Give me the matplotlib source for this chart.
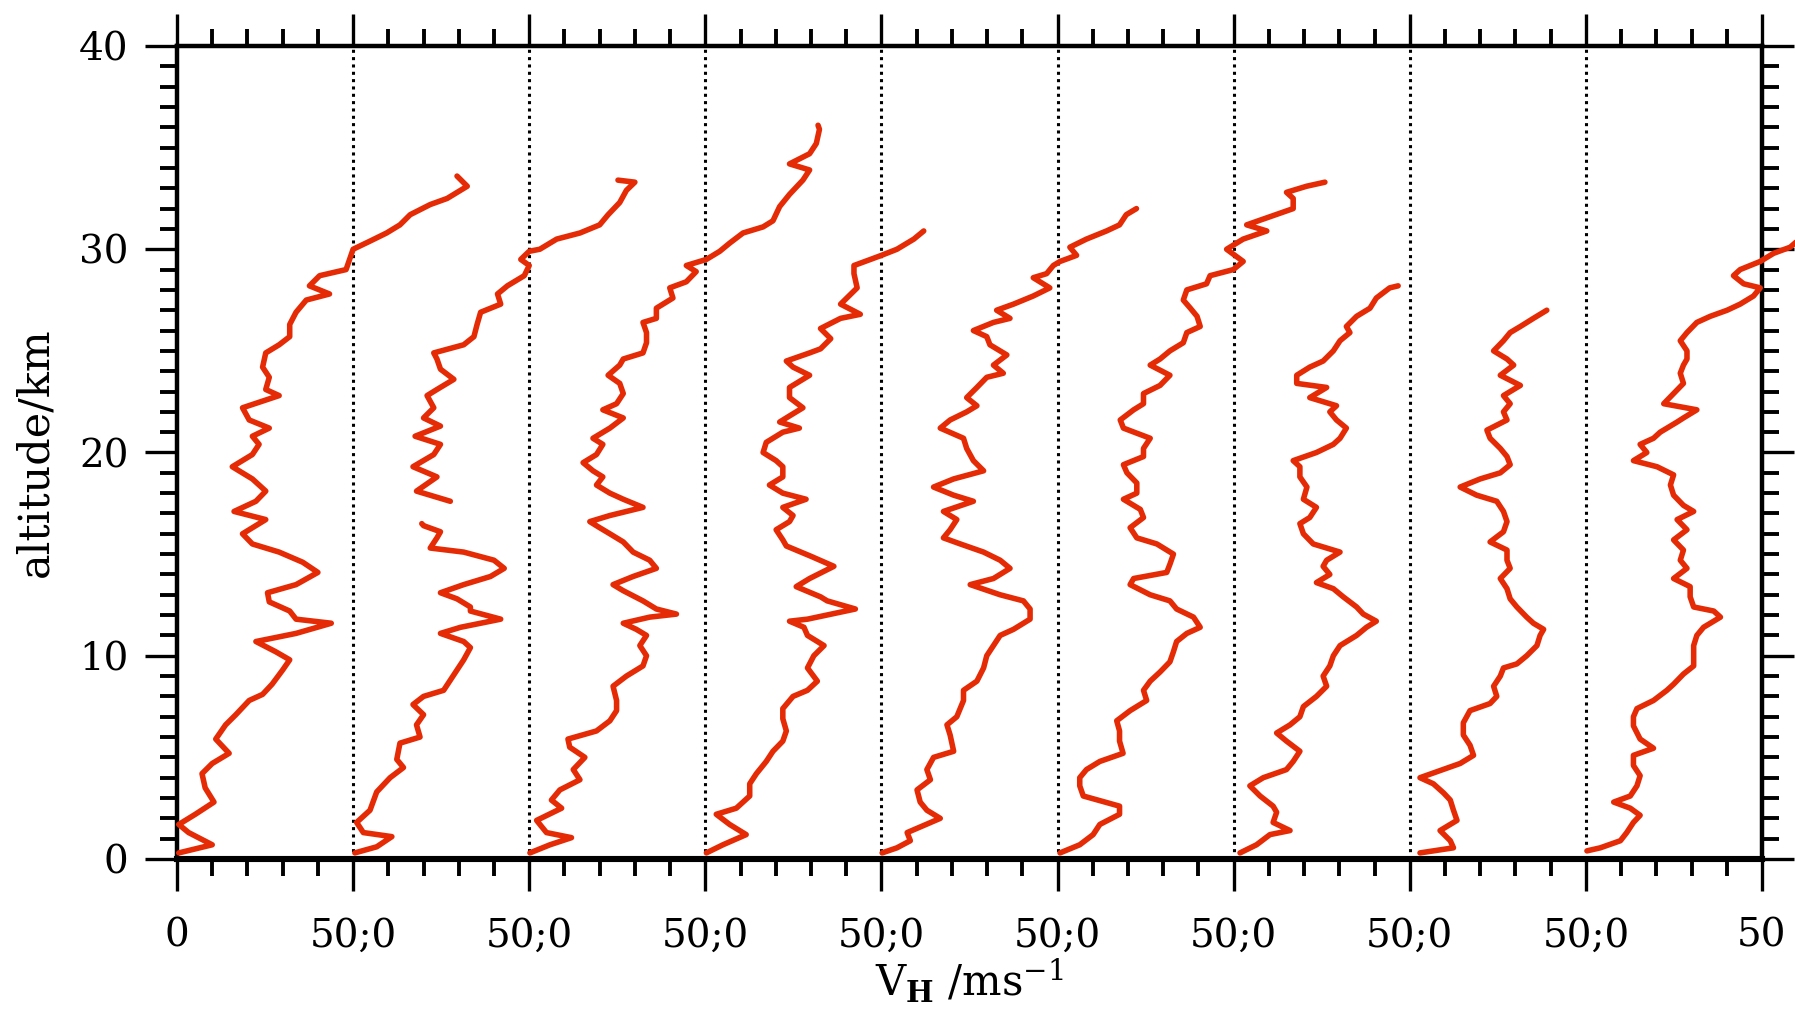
import numpy as np
import matplotlib
matplotlib.use("Agg")
import matplotlib.pyplot as plt
from matplotlib.ticker import MultipleLocator, FixedLocator

plt.rcParams['font.family'] = ['DejaVu Serif']
plt.rcParams['mathtext.fontset'] = 'dejavuserif'

# wind speed profiles, (altitude km, V_H m/s) relative to each 50 m/s panel
p1 = [(0.3, 0.5), (0.7, 10), (1.3, 3.3), (1.7, 0.5), (2.2, 5.2), (2.8, 10.5), (3.5, 8), (4.2, 7.1),
      (4.7, 10), (5.2, 14.8), (5.9, 11), (6.6, 13.8), (7.1, 16.7), (7.8, 20.5), (8.1, 24.3), (8.6, 27),
      (9.3, 30), (9.8, 32), (10.2, 28), (10.7, 22.4), (11.1, 33.8), (11.6, 43.8), (11.8, 33.8), (12.2, 32),
      (12.65, 26.2), (13.1, 25.7), (13.5, 33.8), (14.1, 40), (14.6, 35.7), (15.1, 29), (15.5, 21.4),
      (16.0, 18.6), (16.7, 25.2), (17.1, 16.2), (17.6, 22.4), (18.1, 25.2), (18.7, 21.4), (19.3, 15.7),
      (19.9, 21.4), (20.4, 23.3), (20.8, 21.4), (21.2, 26.2), (21.6, 20.5), (22.2, 18.6), (22.8, 29),
      (23.1, 25.2), (23.7, 26.2), (24.2, 24.3), (24.9, 25.2), (25.3, 29), (25.7, 32), (26.3, 32),
      (26.9, 33.8), (27.5, 36.7), (27.8, 43.3), (28.2, 37.6), (28.7, 40.5), (29.0, 48), (30.0, 50),
      (30.4, 54.8), (30.8, 59.5), (31.2, 63.3), (31.7, 66.2), (32.2, 71.9), (32.5, 76.7), (33.1, 82.4),
      (33.6, 79.5)]

p2 = [(0.3, 0.5), (0.6, 6.7), (1.1, 11), (1.3, 2.9), (1.8, 1), (2.4, 4.8), (3.3, 6.7), (4.0, 10.5),
      (4.5, 14.3), (4.9, 12.4), (5.7, 13.3), (6.0, 19), (6.6, 18), (7.1, 20), (7.6, 17), (8.0, 20),
      (8.3, 25.7), (8.8, 27.6), (9.3, 29.5), (9.8, 31.4), (10.4, 33.3), (10.7, 31.4), (11.1, 24.8),
      (11.4, 30.5), (11.8, 41.9), (12.2, 33.3), (12.4, 33.3), (12.8, 29.5), (13.1, 24.8), (13.5, 31.4),
      (13.9, 39), (14.3, 42.9), (14.7, 40), (15.1, 31.4), (15.3, 21.9), (15.8, 23.8), (16.1, 24.8),
      (16.4, 20), (16.5, 19.5), (np.nan, np.nan),
      (17.6, 27.6), (18.1, 18), (18.8, 23.8), (19.3, 17), (19.9, 22.9), (20.4, 24.8), (20.8, 17.6),
      (21.3, 24.8), (21.7, 20), (22.2, 22.9), (22.8, 21), (23.1, 23.8), (23.6, 28.6), (24.1, 24.8),
      (24.6, 23.8), (24.9, 22.9), (25.3, 31.4), (25.7, 34.3), (26.3, 35.2), (26.9, 36.2), (27.3, 41.9),
      (27.8, 41), (28.2, 43.8), (28.7, 48.6), (29.2, 50), (29.5, 47.6), (29.9, 50), (30.0, 53),
      (30.5, 57.8), (30.8, 64.4), (31.2, 70), (31.7, 72.4), (32.3, 75.7), (32.9, 77.6), (33.3, 80),
      (33.4, 75.2)]

p3 = [(0.3, 0.2), (0.7, 5.9), (1.05, 12), (1.3, 4.9), (1.9, 2.1), (2.5, 9.2), (2.9, 6.3), (3.4, 8.7),
      (3.9, 14.4), (4.4, 12.5), (5.0, 15.8), (5.5, 11.5), (5.9, 11), (6.3, 19.1), (6.8, 22.9), (7.3, 24.8),
      (7.8, 24.8), (8.5, 23.8), (9.0, 27.6), (9.5, 32.3), (10.0, 33.3), (10.5, 31.4), (11.0, 33.3),
      (11.3, 30.4), (11.6, 26.7), (11.9, 34.2), (12.05, 41.8), (12.3, 36.1), (12.7, 32.3), (13.2, 26.7),
      (13.5, 23.8), (13.9, 29.5), (14.3, 36.1), (14.7, 34.2), (15.1, 29.5), (15.6, 26.7), (16.0, 22.9),
      (16.3, 20), (16.6, 17.2), (16.9, 22.9), (17.3, 32.3), (17.7, 26.7), (18.0, 22.9), (18.4, 19.1),
      (18.8, 20.9), (19.1, 18.1), (19.5, 15.3), (19.9, 19.1), (20.4, 20.9), (20.7, 18.1), (21.2, 22.9),
      (21.7, 26.7), (22.1, 20.9), (22.4, 24.8), (22.9, 26.7), (23.4, 25.7), (23.8, 22.4), (24.3, 25.7),
      (24.6, 26.7), (24.9, 32.3), (25.4, 33.3), (25.9, 33.3), (26.4, 32.3), (26.6, 36.1), (27.1, 36.1),
      (27.6, 40.8), (28.1, 39.9), (28.4, 44.6), (28.9, 47.4), (29.2, 44.6), (29.5, 50.3), (29.9, 54.1),
      (30.3, 56.9), (30.8, 60.7), (31.1, 66.4), (31.4, 69.2), (32.1, 71.1), (32.7, 73.9), (33.4, 77.7),
      (33.9, 79.6), (34.2, 73.9), (34.7, 79.6), (35.2, 81.5), (35.9, 82.4), (36.1, 82)]

p4 = [(0.3, 0.3), (0.7, 5), (1.2, 11.6), (1.7, 6.9), (2.2, 3.1), (2.5, 8.8), (3.1, 12.6), (3.7, 12.6),
      (4.2, 14.5), (4.8, 17.3), (5.3, 19.2), (5.8, 22), (6.3, 23), (6.9, 22), (7.4, 22), (8.0, 24.9),
      (8.3, 29), (8.75, 31.8), (9.4, 29), (10.0, 30.8), (10.5, 33.7), (11.0, 29), (11.4, 28),
      (11.7, 23.9), (11.8, 29), (12.3, 42.6), (12.7, 34.6), (12.9, 32.7), (13.4, 25.8), (13.8, 29.6),
      (14.4, 36.5), (14.9, 29.9), (15.4, 23), (15.7, 22), (16.2, 20.1), (16.6, 23.9), (16.9, 24.9),
      (17.3, 22), (17.7, 28.6), (18.0, 22), (18.4, 18.2), (18.8, 22), (19.3, 22), (19.6, 20.1),
      (20.0, 16.4), (20.5, 17.3), (21.0, 22), (21.2, 26.7), (21.5, 21.1), (21.8, 23.9), (22.2, 27.7),
      (22.7, 23.9), (23.2, 23.9), (23.8, 29.6), (24.2, 24.9), (24.5, 23), (24.9, 29.6), (25.1, 32.7),
      (25.6, 35.6), (26.1, 32.7), (26.6, 38.4), (26.8, 44), (27.3, 38.4), (28.1, 43.1), (28.8, 42.2),
      (29.2, 42.2), (29.5, 46.9), (29.7, 50), (30.0, 54.4), (30.5, 59.2), (30.9, 62)]

p5 = [(0.3, 0.2), (0.55, 4.4), (0.9, 8.2), (1.3, 7.3), (2.0, 16.7), (2.4, 12.9), (2.8, 11), (3.4, 10.1),
      (3.9, 13.9), (4.4, 12.9), (5.0, 14.8), (5.3, 20.5), (6.1, 19.5), (6.6, 18.6), (7.0, 21.4),
      (7.8, 23.3), (8.3, 23.3), (8.75, 27.1), (9.4, 29), (10.0, 29.9), (10.5, 31.8), (11.0, 33.7),
      (11.3, 37.5), (11.8, 42.2), (12.3, 42.2), (12.7, 40.3), (13.0, 33.7), (13.5, 25.2), (13.8, 31.8),
      (14.3, 36.5), (14.7, 33.7), (15.1, 29), (15.5, 22.4), (15.8, 17.6), (16.2, 19.5), (16.7, 21.4),
      (17.1, 17.6), (17.6, 26.1), (17.9, 20.5), (18.3, 14.8), (18.7, 20.5), (19.1, 29), (19.6, 26.1),
      (20.2, 24.2), (20.7, 23.3), (21.2, 16.7), (21.6, 19.5), (22.0, 24.2), (22.3, 27.1), (22.7, 24.2),
      (23.2, 27.1), (23.7, 29.9), (23.9, 34.6), (24.3, 31.8), (24.8, 35.6), (25.3, 30.8), (25.7, 29.9),
      (26.0, 26.1), (26.4, 31.8), (26.6, 36.5), (27.0, 32.7), (27.3, 37.5), (27.7, 43.1), (28.1, 47.8),
      (28.6, 43.1), (28.8, 46.9), (29.2, 48.8), (29.4, 50.7), (29.7, 55.4), (30.1, 53.5), (30.5, 58.2),
      (30.9, 63.9), (31.2, 67.6), (31.7, 69.5), (32.0, 72.4)]

p6 = [(0.3, 0.7), (0.7, 6.3), (1.2, 10.1), (1.7, 12), (2.2, 17.6), (2.6, 17.6), (3.1, 7.3), (3.6, 6.3),
      (4.0, 6.3), (4.4, 8.2), (4.8, 12), (5.2, 18.6), (5.8, 17.6), (6.3, 17.6), (6.8, 16.8), (7.3, 20.6),
      (7.8, 25.3), (8.3, 24.4), (8.75, 26.3), (9.2, 29.1), (9.7, 31.9), (10.2, 32.9), (10.7, 33.8),
      (11.1, 36.7), (11.4, 40.5), (11.9, 38.6), (12.3, 33.8), (12.7, 31.9), (13.0, 26.3), (13.5, 20.6),
      (13.8, 21.6), (14.1, 31), (14.5, 31.9), (15.0, 32.9), (15.5, 28.2), (15.8, 22.5), (16.3, 20.6),
      (16.8, 24.4), (17.2, 23.5), (17.7, 18.7), (18.0, 22.5), (18.5, 22.5), (19.0, 19.7), (19.4, 18.7),
      (19.8, 24.4), (20.2, 24.4), (20.7, 26.3), (21.2, 18.7), (21.6, 17.8), (22.1, 21.6), (22.4, 24.4),
      (22.9, 24.4), (23.3, 29.1), (23.8, 31.9), (24.3, 26.3), (24.6, 29.1), (25.0, 31.9), (25.4, 35.7),
      (25.9, 36.7), (26.2, 40.5), (26.7, 39.6), (27.1, 37.7), (27.5, 35.7), (28.0, 36.7), (28.3, 42.3),
      (28.7, 43.3), (29.0, 49.9), (29.4, 52.7), (30.0, 48), (30.5, 52.7), (30.9, 59.4), (31.2, 53.7),
      (31.6, 60.3), (32.0, 66.9), (32.5, 66.9), (32.8, 65), (33.1, 70.7), (33.3, 75.9)]

p7 = [(0.3, 1.8), (0.7, 6.5), (1.2, 10.3), (1.4, 16), (1.8, 11.2), (2.3, 12.2), (2.6, 11.2), (3.1, 7.5),
      (3.6, 4.6), (4.0, 8.4), (4.4, 15), (4.8, 16.9), (5.3, 18.8), (5.8, 15), (6.2, 12.2), (6.6, 16),
      (7.0, 18.8), (7.5, 19.8), (8.0, 23.5), (8.5, 26.4), (9.0, 25.4), (9.5, 27.3), (10.0, 28.3),
      (10.5, 30.2), (11.0, 34.9), (11.4, 37.7), (11.7, 40.5), (12.05, 36.8), (12.4, 34.9), (12.9, 31.1),
      (13.3, 28.3), (13.6, 23.5), (14.0, 27.3), (14.4, 25.4), (14.7, 26.4), (15.1, 30.2), (15.5, 22.6),
      (16.0, 19.8), (16.5, 18.8), (16.8, 21.6), (17.3, 23.5), (17.7, 19.8), (18.3, 20.8), (18.8, 18.8),
      (19.3, 18.8), (19.6, 16.9), (20.0, 23.5), (20.4, 28.3), (20.7, 30.2), (21.2, 32), (21.6, 29.2),
      (22.0, 27.3), (22.3, 29.2), (22.7, 21.6), (23.2, 26.4), (23.4, 17.9), (23.8, 17.9), (24.2, 21.6),
      (24.5, 25.4), (25.0, 28.3), (25.5, 30.2), (25.9, 33), (26.2, 32), (26.7, 34.9), (27.1, 38.7),
      (27.6, 40.5), (28.1, 44.3), (28.2, 46.7)]

p8 = [(0.3, 2.9), (0.55, 12.4), (0.9, 11.5), (1.4, 8.6), (1.9, 13.4), (2.4, 12.4), (2.9, 11.5),
      (3.25, 9.6), (3.7, 6.7), (4.0, 2.9), (4.35, 8.6), (4.7, 14.3), (5.1, 18.1), (5.6, 17.1), (6.1, 15.2),
      (6.7, 15.2), (7.3, 17.1), (7.65, 22.8), (8.0, 24.7), (8.5, 23.8), (9.0, 25.7), (9.4, 26.6),
      (9.6, 30.4), (10.0, 33.2), (10.5, 36.1), (11.0, 37), (11.3, 38), (11.6, 35.1), (11.9, 33.2),
      (12.4, 30.4), (12.8, 28.5), (13.3, 27.6), (13.8, 25.7), (14.3, 28.5), (14.7, 27.6), (15.2, 27.6),
      (15.6, 22.8), (16.1, 26.6), (16.6, 27.6), (17.1, 26.6), (17.6, 24.7), (17.9, 19), (18.3, 14.3),
      (18.7, 20), (19.0, 25.7), (19.4, 28.5), (19.8, 27.6), (20.2, 25.7), (20.7, 22.8), (21.1, 21.9),
      (21.6, 27.6), (22.0, 26.6), (22.4, 28.5), (22.8, 26.6), (23.3, 31.4), (23.8, 25.7), (24.3, 29.5),
      (24.6, 27.6), (25.0, 23.8), (25.5, 26.6), (25.9, 28.5), (26.2, 31.4), (26.6, 35.1), (27.0, 38.9)]

p9 = [(0.4, 0.3), (0.55, 4.1), (0.9, 9.8), (1.3, 11.6), (1.8, 13.5), (2.15, 15.4), (2.5, 12.6),
      (2.8, 7.9), (3.1, 12.6), (3.6, 14.5), (4.1, 15.4), (4.6, 13.5), (5.1, 13.5), (5.45, 19.2),
      (5.9, 15.4), (6.55, 13.5), (7.0, 13.5), (7.4, 14.5), (7.8, 19.2), (8.3, 23), (8.6, 24.9),
      (9.1, 27.7), (9.5, 30.6), (10.0, 30.6), (10.5, 30.6), (11.0, 31.5), (11.4, 33.4), (11.9, 38.2),
      (12.2, 36.3), (12.4, 30.6), (12.9, 29.6), (13.4, 29.6), (13.8, 24.9), (14.3, 28.7), (14.7, 26.8),
      (15.2, 27.7), (15.7, 24.9), (16.2, 28.7), (16.7, 25.9), (17.1, 30.6), (17.4, 27.7), (17.9, 24.9),
      (18.4, 24), (18.9, 24.9), (19.3, 20.2), (19.6, 13.5), (20.0, 17.3), (20.4, 15.4), (20.7, 19.2),
      (21.0, 21.1), (21.5, 25.9), (21.7, 27.7), (22.1, 31.5), (22.4, 22.1), (22.9, 24.9), (23.4, 27.7),
      (23.9, 26.8), (24.3, 27.7), (24.6, 28.7), (25.0, 28.7), (25.5, 26.8), (25.9, 28.7), (26.4, 31.5),
      (26.7, 35.3), (27.0, 40.1), (27.3, 43.8), (27.7, 47.6), (28.1, 49.5), (28.3, 44.8), (28.7, 41.9),
      (29.0, 43.8), (29.4, 49.5), (29.8, 53.3), (30.1, 58), (30.4, 60)]

profiles = [p1, p2, p3, p4, p5, p6, p7, p8, p9]
panel_width = 50
xtick_labels = ['0'] + ['50;0'] * 8 + ['50']
ytick_values = [0, 10, 20, 30, 40]

fig = plt.figure(figsize=(17.95, 10.14), dpi=100)
ax = fig.add_axes([177 / 1795, 1 - 859 / 1014, (1762 - 177) / 1795, (859 - 46) / 1014])

red = '#e52b05'
for i, prof in enumerate(profiles):
    arr = np.array(prof, dtype=float)
    ax.plot(arr[:, 1] + i * panel_width, arr[:, 0], color=red, lw=4.0,
            solid_joinstyle='round', solid_capstyle='round', clip_on=False, zorder=3)

# dotted separators between panels
for i in range(1, len(profiles)):
    ax.axvline(i * panel_width, color='black', lw=2.2, ls=(0, (1.0, 1.4)), zorder=2)

ax.set_xlim(0, panel_width * len(profiles))
ax.set_ylim(0, 40)

ax.xaxis.set_major_locator(FixedLocator(np.arange(0, 451, 50)))
ax.set_xticklabels(xtick_labels)
ax.xaxis.set_minor_locator(MultipleLocator(10))
ax.set_yticks(ytick_values)
ax.yaxis.set_minor_locator(MultipleLocator(1))

ax.tick_params(which='both', direction='out', top=True, right=True,
               labeltop=False, labelright=False)
ax.tick_params(which='major', length=23, width=2.4, labelsize=28)
ax.tick_params(which='minor', length=12, width=2.8)
ax.tick_params(axis='x', which='major', pad=19)
ax.tick_params(axis='y', which='major', pad=12)

for side in ['left', 'right', 'top']:
    ax.spines[side].set_linewidth(3.2)
ax.spines['bottom'].set_linewidth(4.4)

ax.set_xlabel(r'V$_{\mathbf{H}}$ /ms$^{-1}$', fontsize=30, labelpad=2)
ax.set_ylabel('altitude/km', fontsize=31, labelpad=16)

fig.savefig('out.png', dpi=100)
